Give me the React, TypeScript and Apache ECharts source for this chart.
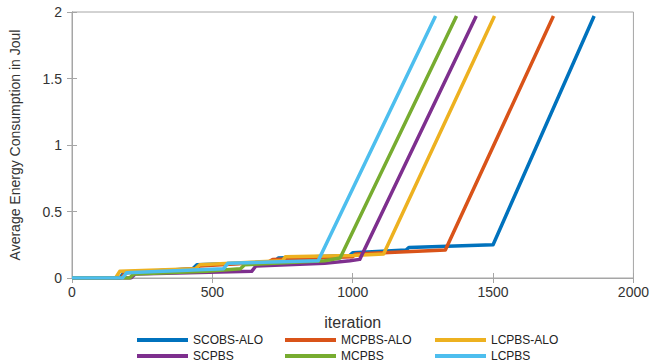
import React, { useEffect, useRef } from "react";
import * as echarts from "echarts";

const seriesNames = ["SCOBS-ALO", "MCPBS-ALO", "LCPBS-ALO", "SCPBS", "MCPBS", "LCPBS"];
const seriesColors = ["#0072BD", "#D95319", "#EDB120", "#7E2F8E", "#77AC30", "#4DBEEE"];

const scobsAloIter = [0, 170, 185, 430, 445, 720, 735, 990, 1000, 1190, 1200, 1500, 1860];
const scobsAloEnergy = [0, 0, 0.04, 0.07, 0.1, 0.12, 0.15, 0.17, 0.19, 0.21, 0.23, 0.25, 1.97];

const mcpbsAloIter = [0, 175, 190, 440, 455, 700, 715, 1000, 1010, 1330, 1715];
const mcpbsAloEnergy = [0, 0, 0.04, 0.07, 0.09, 0.12, 0.14, 0.16, 0.18, 0.21, 1.97];

const lcpbsAloIter = [0, 155, 170, 440, 455, 750, 760, 1000, 1110, 1505];
const lcpbsAloEnergy = [0, 0, 0.05, 0.07, 0.1, 0.13, 0.16, 0.17, 0.18, 1.97];

const scpbsIter = [0, 210, 225, 640, 655, 900, 990, 1025, 1440];
const scpbsEnergy = [0, 0, 0.03, 0.05, 0.09, 0.11, 0.13, 0.14, 1.97];

const mcpbsIter = [0, 205, 220, 480, 600, 615, 900, 955, 1370];
const mcpbsEnergy = [0, 0, 0.03, 0.05, 0.07, 0.1, 0.13, 0.15, 1.97];

const lcpbsIter = [0, 180, 195, 540, 555, 877, 1295];
const lcpbsEnergy = [0, 0, 0.04, 0.07, 0.11, 0.13, 1.97];

const xTicks = [0, 500, 1000, 1500, 2000];
const yTicks = [0, 0.5, 1, 1.5, 2];

const allIters = [scobsAloIter, mcpbsAloIter, lcpbsAloIter, scpbsIter, mcpbsIter, lcpbsIter];
const allEnergy = [scobsAloEnergy, mcpbsAloEnergy, lcpbsAloEnergy, scpbsEnergy, mcpbsEnergy, lcpbsEnergy];

const legendLeft = [137, 285, 435, 137, 285, 435];
const legendTop = [334, 334, 334, 350, 350, 350];

export default function App() {
  const ref = useRef<HTMLDivElement>(null);
  useEffect(() => {
    if (!ref.current) return;
    const chart = echarts.init(ref.current, null, { renderer: "svg" });
    const font = "Liberation Sans, Arial, sans-serif";
    const axisColor = "#a6a6a6";
    const textColor = "#333333";
    const plain = (v: number) => String(v);
    chart.setOption({
      animation: false,
      grid: {
        left: 68,
        right: 14,
        top: 12,
        bottom: 86,
        show: true,
        borderColor: axisColor,
        borderWidth: 1,
        backgroundColor: "transparent",
      },
      legend: seriesNames.map((n, i) => ({
        data: [n],
        left: legendLeft[i],
        top: legendTop[i],
        padding: 0,
        icon: "rect",
        itemWidth: 51,
        itemHeight: 4,
        textStyle: { fontFamily: font, fontSize: 12, color: "#222" },
      })),
      xAxis: [
        {
          type: "value",
          min: xTicks[0],
          max: xTicks[xTicks.length - 1],
          interval: 500,
          name: "iteration",
          nameLocation: "middle",
          nameGap: 36,
          nameTextStyle: { fontFamily: font, fontSize: 16, color: textColor },
          axisLine: { show: true, lineStyle: { color: axisColor } },
          axisTick: { show: true, inside: true, length: 5, lineStyle: { color: axisColor } },
          axisLabel: { fontFamily: font, fontSize: 14, color: textColor, margin: 7, formatter: plain },
          splitLine: { show: false },
        },
        {
          type: "value",
          position: "top",
          min: xTicks[0],
          max: xTicks[xTicks.length - 1],
          interval: 500,
          axisLine: { show: true, lineStyle: { color: axisColor } },
          axisTick: { show: true, inside: true, length: 5, lineStyle: { color: axisColor } },
          axisLabel: { show: false },
          splitLine: { show: false },
        },
      ],
      yAxis: [
        {
          type: "value",
          min: yTicks[0],
          max: yTicks[yTicks.length - 1],
          interval: 0.5,
          name: "Average Energy Consumption in Joul",
          nameLocation: "middle",
          nameGap: 50,
          nameTextStyle: { fontFamily: font, fontSize: 14, color: textColor },
          axisLine: { show: true, lineStyle: { color: axisColor } },
          axisTick: { show: true, inside: true, length: 5, lineStyle: { color: axisColor } },
          axisLabel: { fontFamily: font, fontSize: 14, color: textColor, margin: 10, formatter: plain },
          splitLine: { show: false },
        },
        {
          type: "value",
          position: "right",
          min: yTicks[0],
          max: yTicks[yTicks.length - 1],
          interval: 0.5,
          axisLine: { show: true, lineStyle: { color: axisColor } },
          axisTick: { show: true, inside: true, length: 5, lineStyle: { color: axisColor } },
          axisLabel: { show: false },
          splitLine: { show: false },
        },
      ],
      series: seriesNames.map((n, i) => ({
        name: n,
        type: "line",
        xAxisIndex: 0,
        yAxisIndex: 0,
        showSymbol: false,
        symbol: "none",
        color: seriesColors[i],
        lineStyle: { width: 3.5, color: seriesColors[i], join: "round" },
        data: allIters[i].map((x, k) => [x, allEnergy[i][k]]),
      })),
    });
    return () => chart.dispose();
  }, []);
  return (
    <div
      ref={ref}
      style={{ position: "fixed", left: 0, top: 0, width: 652, height: 364, background: "#fff" }}
    />
  );
}
